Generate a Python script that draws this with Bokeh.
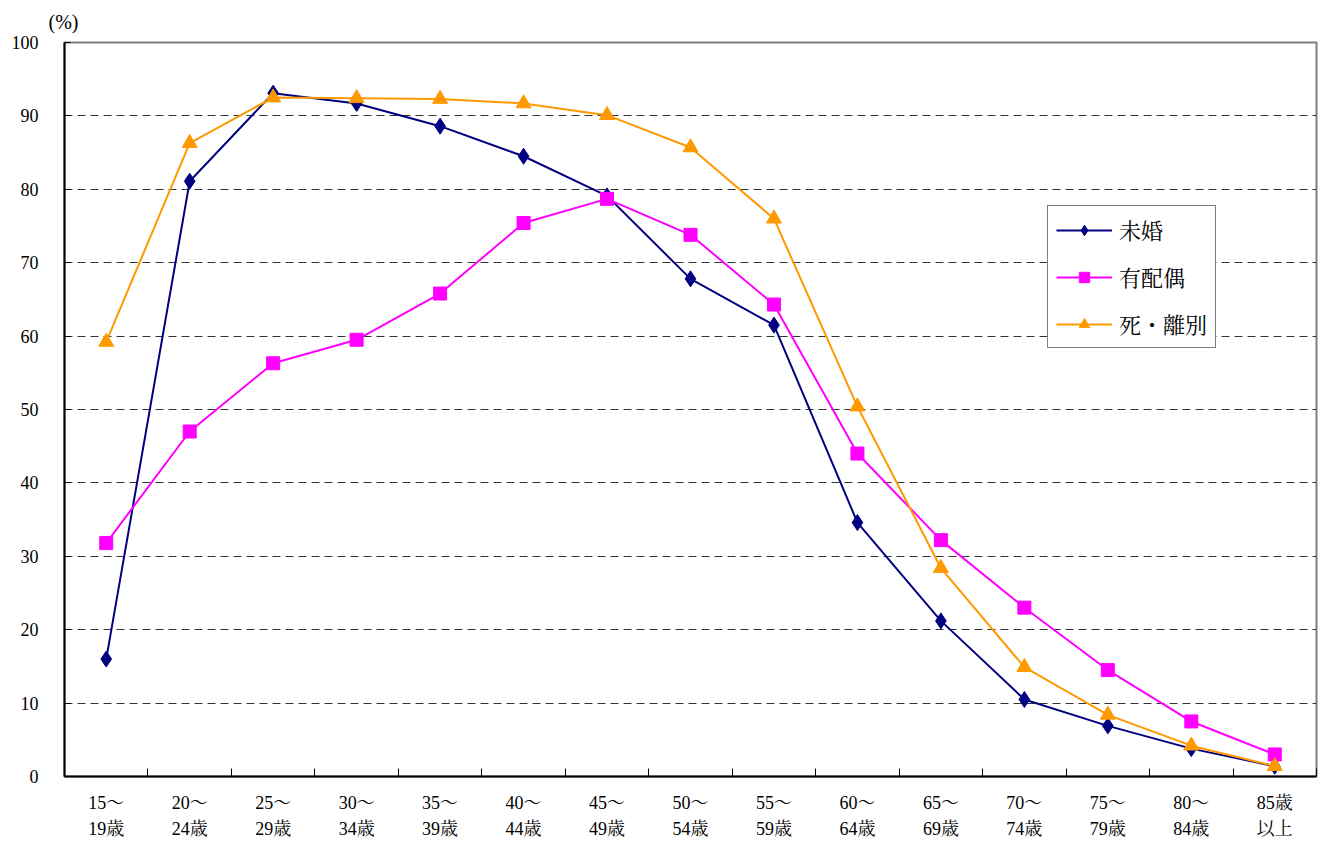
from bokeh.plotting import figure
from bokeh.models import Range1d, FixedTicker, Legend, LegendItem
from bokeh.embed import file_html
from bokeh.resources import INLINE

categories = ["15～\n19歳", "20～\n24歳", "25～\n29歳", "30～\n34歳", "35～\n39歳",
              "40～\n44歳", "45～\n49歳", "50～\n54歳", "55～\n59歳", "60～\n64歳",
              "65～\n69歳", "70～\n74歳", "75～\n79歳", "80～\n84歳", "85歳\n以上"]
mikon = [16.0, 81.1, 93.1, 91.7, 88.6, 84.5, 79.1, 67.8, 61.5, 34.6, 21.2, 10.5, 6.9, 3.8, 1.4]
haiguu = [31.8, 47.0, 56.3, 59.5, 65.8, 75.4, 78.7, 73.8, 64.3, 44.0, 32.2, 23.0, 14.5, 7.5, 3.0]
shiribetsu = [59.2, 86.3, 92.5, 92.4, 92.3, 91.7, 90.1, 85.7, 76.0, 50.4, 28.4, 14.9, 8.4, 4.2, 1.4]
y_ticks = [0, 10, 20, 30, 40, 50, 60, 70, 80, 90, 100]

FONT = "Liberation Serif, Noto Serif CJK JP, Noto Sans CJK JP"

n = len(categories)
xc = [i + 0.5 for i in range(n)]
bounds = list(range(n + 1))

p = figure(width=1319, height=841, output_backend="svg", toolbar_location=None,
           x_range=Range1d(0, n), y_range=Range1d(0, 100),
           min_border_left=64, min_border_right=3, min_border_top=42, min_border_bottom=63)
p.background_fill_color = "white"
p.border_fill_color = "white"
p.outline_line_color = "#808080"
p.outline_line_width = 2

p.title.text = "(%)"
p.title.align = "left"
p.title.offset = -16
p.title.text_font = FONT
p.title.text_font_size = "20px"
p.title.text_font_style = "normal"
p.title.text_color = "black"
p.title.standoff = 16
p.title.vertical_align = "top"

# axes
p.xaxis.ticker = FixedTicker(ticks=xc, minor_ticks=bounds)
p.xaxis.major_label_overrides = {x: c for x, c in zip(xc, categories)}
p.xaxis.major_tick_in = 0
p.xaxis.major_tick_out = 0
p.xaxis.minor_tick_in = 8
p.xaxis.minor_tick_out = 0
p.xaxis.minor_tick_line_color = "black"
p.xaxis.axis_line_color = "black"
p.xaxis.axis_line_width = 2
p.xaxis.major_label_standoff = 16
p.xaxis.major_label_text_font = FONT
p.xaxis.major_label_text_font_size = "18px"
p.xaxis.major_label_text_color = "black"
p.xaxis.major_label_text_line_height = 1.3

p.yaxis.ticker = FixedTicker(ticks=y_ticks)
p.yaxis.major_tick_in = 6
p.yaxis.major_tick_out = 0
p.yaxis.minor_tick_line_color = None
p.yaxis.axis_line_color = "black"
p.yaxis.axis_line_width = 2
p.yaxis.major_label_standoff = 26
p.yaxis.major_label_text_font = FONT
p.yaxis.major_label_text_font_size = "18px"
p.yaxis.major_label_text_color = "black"

p.xgrid.grid_line_color = None
p.ygrid.ticker = FixedTicker(ticks=y_ticks[1:-1])
p.ygrid.grid_line_color = "#333333"
p.ygrid.grid_line_dash = "8 5"
p.ygrid.grid_line_width = 1

navy = "#000080"
mag = "#FF00FF"
org = "#FF9900"

l1 = p.line(xc, mikon, line_color=navy, line_width=2)
m1 = p.scatter(xc, mikon, marker="diamond", size=16, fill_color=navy, line_color=navy)
l2 = p.line(xc, haiguu, line_color=mag, line_width=2)
m2 = p.scatter(xc, haiguu, marker="square", size=13, fill_color=mag, line_color=mag)
l3 = p.line(xc, shiribetsu, line_color=org, line_width=2)
m3 = p.scatter(xc, shiribetsu, marker="triangle", size=15, fill_color=org, line_color=org)

legend = Legend(items=[LegendItem(label="未婚", renderers=[l1, m1]),
                       LegendItem(label="有配偶", renderers=[l2, m2]),
                       LegendItem(label="死・離別", renderers=[l3, m3])],
                location=(983, 428), orientation="vertical",
                border_line_color="black", border_line_width=1,
                background_fill_color="white", background_fill_alpha=1,
                padding=8, spacing=16, margin=0,
                glyph_width=56, glyph_height=26, label_standoff=7,
                label_text_font=FONT, label_text_font_size="22px",
                label_text_color="black", label_height=26)
p.add_layout(legend, "center")

open("out.html", "w").write(file_html(p, INLINE))
